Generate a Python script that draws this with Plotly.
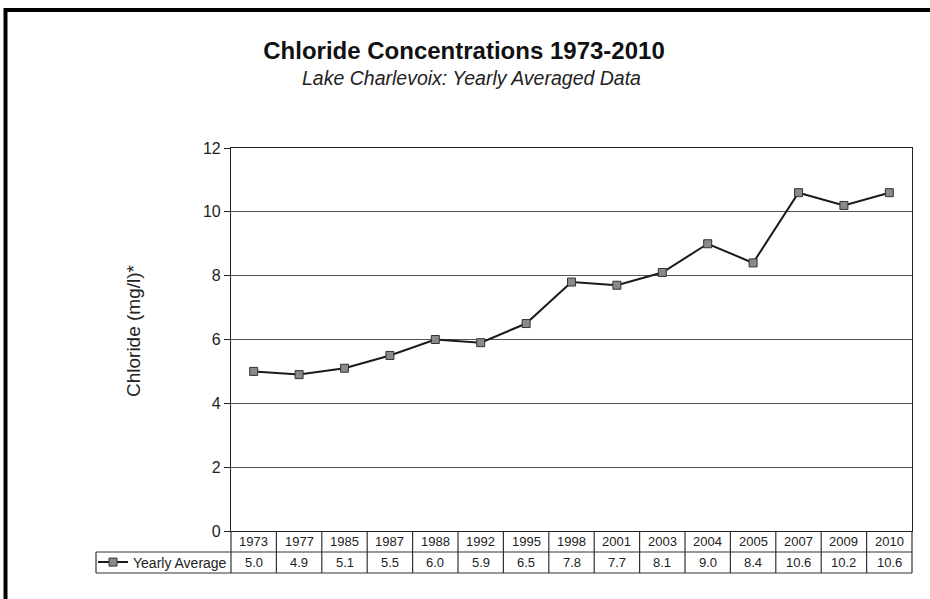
import plotly.graph_objects as go

years = ["1973", "1977", "1985", "1987", "1988", "1992", "1995", "1998",
         "2001", "2003", "2004", "2005", "2007", "2009", "2010"]
chloride = [5.0, 4.9, 5.1, 5.5, 6.0, 5.9, 6.5, 7.8, 7.7, 8.1, 9.0, 8.4, 10.6, 10.2, 10.6]
y_ticks = [0, 2, 4, 6, 8, 10, 12]
series_name = "Yearly Average"
title_text = "Chloride Concentrations 1973-2010"
subtitle_text = "Lake Charlevoix: Yearly Averaged Data"
y_title = "Chloride (mg/l)*"

W, H = 930, 599
L, R, T, B = 231, 18, 148, 68
PW, PH = W - L - R, H - T - B

def px_x(p):  # pixel x -> paper
    return (p - L) / PW

def px_y(p):  # pixel y -> paper
    return (H - B - p) / PH

FONT = "Liberation Sans, Arial, sans-serif"
n = len(years)

fig = go.Figure()
fig.add_trace(go.Scatter(
    x=list(range(n)), y=chloride, mode="lines+markers", name=series_name,
    line=dict(color="#1a1a1a", width=2),
    marker=dict(symbol="square", size=8, color="#8a8a8a",
                line=dict(color="#333333", width=1)),
))

shapes = []
row1_top, row_mid, row_bot = 531, 552, 573
lc = dict(color="#333", width=1.2)
shapes.append(dict(type="line", xref="paper", yref="paper", x0=px_x(96), x1=1,
                   y0=px_y(row_mid), y1=px_y(row_mid), line=lc))
shapes.append(dict(type="line", xref="paper", yref="paper", x0=px_x(96), x1=1,
                   y0=px_y(row_bot), y1=px_y(row_bot), line=lc))
for k in range(n + 1):
    shapes.append(dict(type="line", xref="paper", yref="paper", x0=k / n, x1=k / n,
                       y0=px_y(row1_top), y1=px_y(row_bot), line=lc))
shapes.append(dict(type="line", xref="paper", yref="paper", x0=px_x(96), x1=px_x(96),
                   y0=px_y(row_mid), y1=px_y(row_bot), line=lc))
# outer frame
shapes.append(dict(type="rect", xref="paper", yref="paper", x0=px_x(5.5), x1=px_x(990),
                   y0=px_y(660), y1=px_y(10), line=dict(color="black", width=4)))

annotations = []
for i, (yr, v) in enumerate(zip(years, chloride)):
    annotations.append(dict(x=(i + 0.5) / n, y=px_y((row1_top + row_mid) / 2), xref="paper", yref="paper",
                            text=yr, showarrow=False, font=dict(family=FONT, size=13, color="#222"),
                            xanchor="center", yanchor="middle"))
    annotations.append(dict(x=(i + 0.5) / n, y=px_y((row_mid + row_bot) / 2), xref="paper", yref="paper",
                            text=f"{v:.1f}", showarrow=False, font=dict(family=FONT, size=13, color="#222"),
                            xanchor="center", yanchor="middle"))
annotations.append(dict(x=px_x(471), y=px_y(78), xref="paper", yref="paper", text=f"<i>{subtitle_text}</i>",
                        showarrow=False, font=dict(family=FONT, size=19.5, color="#222"),
                        xanchor="center", yanchor="middle"))
annotations.append(dict(x=px_x(133), y=px_y(331), xref="paper", yref="paper", text=y_title,
                        textangle=-90, showarrow=False, font=dict(family=FONT, size=19, color="#222"),
                        xanchor="center", yanchor="middle"))

fig.update_layout(
    width=W, height=H,
    margin=dict(l=L, r=R, t=T, b=B),
    paper_bgcolor="white", plot_bgcolor="white",
    title=dict(text=f"<b>{title_text}</b>", x=464 / W, xanchor="center", xref="container",
               y=1 - 51 / H, yref="container", yanchor="middle",
               font=dict(family=FONT, size=24, color="#111")),
    showlegend=True,
    legend=dict(x=px_x(93), y=px_y((row_mid + row_bot) / 2), xanchor="left", yanchor="middle",
                bgcolor="rgba(0,0,0,0)", font=dict(family=FONT, size=14, color="#222"),
                itemwidth=30, borderwidth=0, tracegroupgap=0),
    xaxis=dict(range=[-0.5, n - 0.5], showticklabels=False, ticks="",
               showgrid=False, showline=True, linecolor="#222", linewidth=1.2, mirror=True,
               zeroline=False, fixedrange=True),
    yaxis=dict(range=[0, 12], tickvals=y_ticks, ticks="outside", ticklen=6, tickcolor="#222",
               showgrid=True, gridcolor="#555", gridwidth=1, showline=True, linecolor="#222",
               linewidth=1.2, mirror=True, zeroline=False,
               tickfont=dict(family=FONT, size=16, color="#222")),
    shapes=shapes, annotations=annotations,
    font=dict(family=FONT),
)

fig.write_html("out.html", config={"displayModeBar": False},
               post_script="document.body.style.margin='0';")
